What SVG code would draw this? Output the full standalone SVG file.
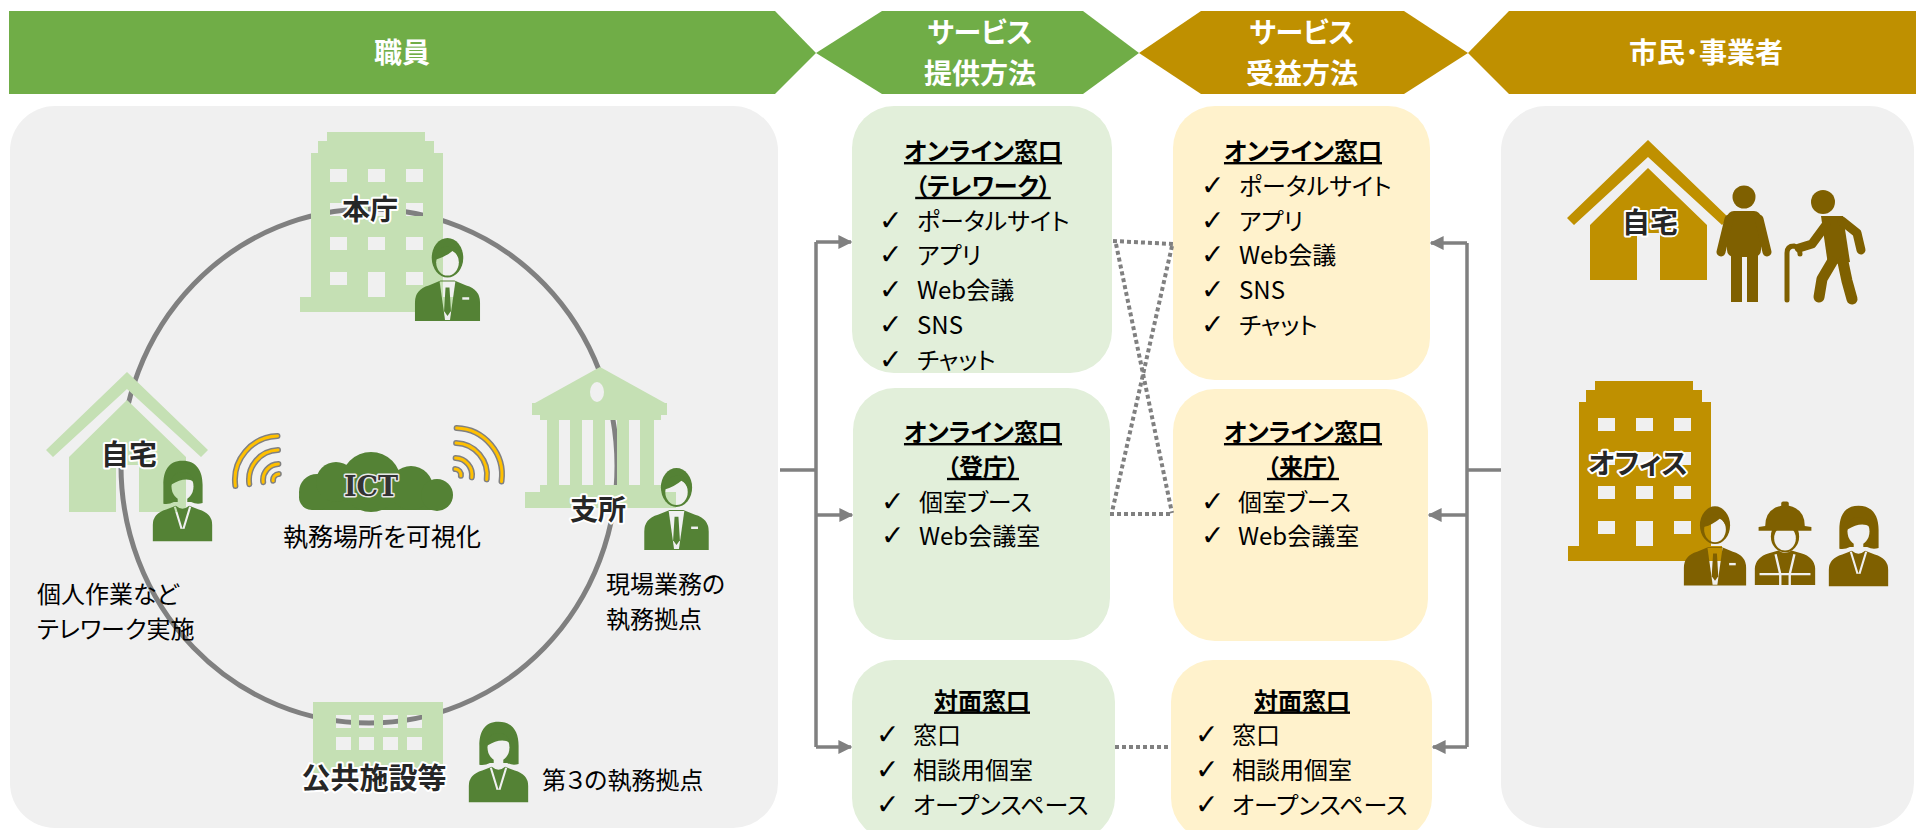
<svg xmlns="http://www.w3.org/2000/svg" xmlns:xlink="http://www.w3.org/1999/xlink" width="1916" height="830" viewBox="0 0 1916 830">
  <style>
    text { font-family: "Noto Sans CJK JP", "Noto Sans", sans-serif; font-feature-settings: "palt"; }
    .hdr { font-size: 28px; font-weight: bold; fill: #ffffff; text-anchor: middle; }
    .ttl { font-size: 24px; font-weight: bold; fill: #000000; text-anchor: middle; text-decoration: underline; }
    .itm { font-size: 24px; fill: #000000; }
    .chk { font-family: "DejaVu Sans", sans-serif; font-size: 28px; font-weight: bold; fill: #000000; }
    .lbl { font-size: 28px; font-weight: bold; fill: #262626; stroke: #ffffff; stroke-width: 4px; paint-order: stroke; stroke-linejoin: round; text-anchor: middle; }
    .ict { font-family: "DejaVu Serif", "Liberation Serif", serif; font-size: 27px; font-weight: bold; fill: #333333; stroke: #e8e8e8; stroke-width: 3px; paint-order: stroke; stroke-linejoin: round; text-anchor: middle; }
    .txt { font-size: 24px; fill: #000000; }
    .panel { fill: #F0F0F0; }
    .gbox { fill: #E2EFDA; }
    .ybox { fill: #FFF2CC; }
    .lgreen { fill: #C5E0B4; }
    .gold { fill: #BF9000; }
    .hole { fill: #F0F0F0; }
    .wire { fill: none; stroke: #808080; stroke-width: 3.5; }
    .dots { fill: none; stroke: #808080; stroke-width: 4; stroke-dasharray: 4 3; }
    .wave { fill: none; stroke-linecap: round; }
    .limb { fill: none; stroke: #7F6000; stroke-linecap: round; stroke-linejoin: round; }
  </style>
  <defs>
    <marker id="arr" viewBox="0 0 10 10" refX="9" refY="5" markerWidth="4" markerHeight="4.4" orient="auto" markerUnits="strokeWidth">
      <path d="M0,0 L10,5 L0,10 Z" fill="#808080"/>
    </marker>
    <!-- house: roof band + body with door opening, origin at roof apex -->
    <symbol id="house" viewBox="-82 0 164 141" overflow="visible">
      <path d="M0,0 L81,78 L74,85 L0,17 L-74,85 L-81,78 Z"/>
      <path d="M0,28 L59,85 V140 H12 V93 H-11 V140 H-58 V85 Z"/>
    </symbol>
    <!-- office tower with window openings -->
    <path id="tower" fill-rule="evenodd" d="M27,0 H125 V9 H134 V21 H143 V165 H154 V180 H0 V165 H11 V21 H18 V9 H27 Z
      M30,37 h17 v13 h-17 Z M68,37 h17 v13 h-17 Z M106,37 h17 v13 h-17 Z
      M30,71 h17 v13 h-17 Z M68,71 h17 v13 h-17 Z M106,71 h17 v13 h-17 Z
      M30,105 h17 v13 h-17 Z M68,105 h17 v13 h-17 Z M106,105 h17 v13 h-17 Z
      M30,140 h17 v13 h-17 Z M68,140 h17 v25 h-17 Z M106,140 h17 v13 h-17 Z"/>

    <!-- cut-outs for the person pictograms (face, shirt, collar lines) -->
    <mask id="cut-man" maskUnits="userSpaceOnUse" x="0" y="0" width="70" height="90">
      <rect width="70" height="90" fill="#fff"/>
      <ellipse cx="35" cy="25.5" rx="11.5" ry="13.5" fill="#000"/>
      <path d="M27,45 H43 L37.5,84 H32.5 Z" fill="#000"/>
      <rect x="50" y="61" width="7" height="2.5" fill="#000"/>
    </mask>
    <mask id="cut-woman" maskUnits="userSpaceOnUse" x="0" y="0" width="70" height="90">
      <rect width="70" height="90" fill="#fff"/>
      <ellipse cx="35" cy="28" rx="11.5" ry="14" fill="#000"/>
      <rect x="30" y="38" width="10" height="9" fill="#000"/>
      <path d="M27,49 L34,72 M43,49 L36,72" stroke="#000" stroke-width="2.2" fill="none"/>
    </mask>
    <mask id="cut-worker" maskUnits="userSpaceOnUse" x="0" y="0" width="70" height="90">
      <rect width="70" height="90" fill="#fff"/>
      <ellipse cx="35" cy="40" rx="11.5" ry="13" fill="#000"/>
      <path d="M25,57 L30,78 V90 M45,57 L40,78 V90 M8,78 H62" stroke="#000" stroke-width="2.5" fill="none"/>
    </mask>

    <!-- person in suit -->
    <symbol id="man" viewBox="0 0 70 85">
      <g fill="currentColor" mask="url(#cut-man)">
        <path d="M2,85 V66 Q2,53 16,49 L28,44 H42 L54,49 Q68,53 68,66 V85 Z"/>
        <ellipse cx="35" cy="21" rx="16" ry="20"/>
      </g>
      <path fill="currentColor" d="M33,51 H37 L38.5,75 L35,80 L31.5,75 Z"/>
      <path fill="currentColor" d="M23,23 Q23,9 37,9 Q49,10 48,25 Q45,16 40,14 Q33,20 23,23 Z"/>
    </symbol>
    <!-- person with long hair -->
    <symbol id="woman" viewBox="0 0 70 85">
      <g fill="currentColor" mask="url(#cut-woman)">
        <path d="M35,1 C20,1 15,12 15,26 V46 Q21,47 26,44 H44 Q50,47 56,45 V26 C56,12 50,1 35,1 Z"/>
        <path d="M4,85 V68 Q4,56 18,52 L28,48 Q35,54 42,48 L52,52 Q66,56 66,68 V85 Z"/>
      </g>
      <path fill="currentColor" d="M23,26 Q23,13 35,13 Q45,13 47,23 Q38,17 23,26 Z"/>
    </symbol>
    <!-- person with safety helmet -->
    <symbol id="worker" viewBox="0 0 70 90">
      <g fill="currentColor" mask="url(#cut-worker)">
        <path d="M3,90 V72 Q4,60 18,56 L28,53 Q35,58 42,53 L52,56 Q66,60 67,72 V90 Z"/>
        <ellipse cx="35" cy="38" rx="15" ry="17"/>
      </g>
      <path fill="currentColor" d="M14,27 Q14,7 35,5 Q56,7 56,27 L63,28 V32 H7 V28 Z"/>
      <rect fill="currentColor" x="31" y="1" width="8" height="6" rx="2"/>
    </symbol>
  </defs>

  <!-- header banners -->
  <g id="headers">
    <g id="hdr-staff">
      <polygon points="9,11 775,11 816,53 775,94 9,94" fill="#70AD47"/>
      <text class="hdr" x="402" y="63">職員</text>
    </g>
    <g id="hdr-provide">
      <polygon points="882,11 1083,11 1139,53 1083,94 882,94 816,53" fill="#70AD47"/>
      <text class="hdr" x="980" y="43">サービス</text>
      <text class="hdr" x="980" y="83.5">提供方法</text>
    </g>
    <g id="hdr-receive">
      <polygon points="1201,11 1404,11 1468,53 1404,94 1201,94 1139,53" fill="#BF9000"/>
      <text class="hdr" x="1302" y="43">サービス</text>
      <text class="hdr" x="1302" y="83.5">受益方法</text>
    </g>
    <g id="hdr-citizens">
      <polygon points="1509,11 1916,11 1916,94 1509,94 1468,53" fill="#BF9000"/>
      <text class="hdr" x="1706" y="63">市民･事業者</text>
    </g>
  </g>

  <!-- staff workplace panel -->
  <g id="node-staff">
    <rect class="panel" x="10" y="106" width="768" height="722" rx="45"/>
    <ellipse cx="369" cy="466" rx="248" ry="257" fill="none" stroke="#808080" stroke-width="5"/>

    <g id="site-honcho">
      <use href="#tower" class="lgreen" transform="translate(300,132)"/>
      <text class="lbl" x="370" y="220">本庁</text>
      <use href="#man" x="413" y="237" width="69" height="84" color="#548235"/>
    </g>

    <g id="site-home">
      <use href="#house" class="lgreen" x="45" y="372" width="164" height="141"/>
      <text class="lbl" x="129" y="465">自宅</text>
      <use href="#woman" x="149" y="458" width="67" height="85" color="#548235"/>
      <text class="txt" x="37" y="603">個人作業など</text>
      <text class="txt" x="37" y="638">テレワーク実施</text>
    </g>

    <g id="site-branch">
      <g class="lgreen">
        <polygon points="600,367 665,403 535,403"/>
        <rect x="532" y="403" width="135" height="12"/>
        <rect x="540" y="415" width="121" height="5"/>
        <rect x="547" y="420" width="12" height="65"/>
        <rect x="570" y="420" width="12" height="65"/>
        <rect x="593" y="420" width="12" height="65"/>
        <rect x="617" y="420" width="12" height="65"/>
        <rect x="640" y="420" width="14" height="65"/>
        <rect x="540" y="485" width="121" height="7"/>
        <rect x="525" y="492" width="151" height="16"/>
      </g>
      <ellipse class="hole" cx="597" cy="392" rx="7" ry="10"/>
      <text class="lbl" x="598" y="520">支所</text>
      <use href="#man" x="642" y="467" width="69" height="83" color="#548235"/>
      <text class="txt" x="606" y="593">現場業務の</text>
      <text class="txt" x="606" y="628">執務拠点</text>
    </g>

    <g id="site-public">
      <path class="lgreen" fill-rule="evenodd" d="M313,702 H443 V773 H313 Z
        M336,715 h15 v13 h-15 Z M359,715 h15 v13 h-15 Z M383,715 h15 v13 h-15 Z M407,715 h15 v13 h-15 Z
        M336,737 h15 v13 h-15 Z M359,737 h15 v13 h-15 Z M383,737 h15 v13 h-15 Z M407,737 h15 v13 h-15 Z"/>
      <text class="lbl" x="374" y="789" style="font-size:29px">公共施設等</text>
      <use href="#woman" x="465" y="720" width="67" height="83" color="#548235"/>
      <text class="txt" x="542" y="789">第３の執務拠点</text>
    </g>

    <g id="ict">
      <g fill="#548235">
        <rect x="299" y="484" width="148" height="26" rx="13"/>
        <circle cx="317" cy="492" r="18"/>
        <circle cx="336" cy="482" r="20"/>
        <circle cx="371" cy="482" r="30"/>
        <circle cx="411" cy="488" r="22"/>
        <circle cx="437" cy="495" r="16"/>
      </g>
      <!-- signal waves: grey casing under a yellow core -->
      <g class="wave" stroke="#808080" stroke-width="6">
        <path d="M235.4,486.1 A44,44 0 0 1 277.5,436 M249.3,484.2 A30,30 0 0 1 278,450 M263.2,482.2 A16,16 0 0 1 278.4,464 M273.1,480.8 A6,6 0 0 1 278.8,474"/>
        <path d="M456.6,428 A47,47 0 0 1 501.5,481.5 M456.1,443 A32,32 0 0 1 486.7,479.4 M455.6,458 A17,17 0 0 1 471.8,477.4 M455.2,469 A6,6 0 0 1 460.9,475.8"/>
      </g>
      <g class="wave" stroke="#FFC000" stroke-width="3">
        <path d="M235.4,486.1 A44,44 0 0 1 277.5,436 M249.3,484.2 A30,30 0 0 1 278,450 M263.2,482.2 A16,16 0 0 1 278.4,464 M273.1,480.8 A6,6 0 0 1 278.8,474"/>
        <path d="M456.6,428 A47,47 0 0 1 501.5,481.5 M456.1,443 A32,32 0 0 1 486.7,479.4 M455.6,458 A17,17 0 0 1 471.8,477.4 M455.2,469 A6,6 0 0 1 460.9,475.8"/>
      </g>
      <text class="ict" x="371" y="496">ICT</text>
      <text class="txt" x="382" y="546" text-anchor="middle" style="font-size:25px">執務場所を可視化</text>
    </g>
  </g>

  <!-- service delivery channels -->
  <g id="node-provide-online-telework">
    <rect class="gbox" x="852" y="106" width="260" height="267" rx="42"/>
    <text class="ttl" x="983" y="160">オンライン窓口</text>
    <text class="ttl" x="983" y="194.8">（テレワーク）</text>
    <text class="chk" x="879" y="229.6">✓</text><text class="itm" x="917" y="229.6">ポータルサイト</text>
    <text class="chk" x="879" y="264.4">✓</text><text class="itm" x="917" y="264.4">アプリ</text>
    <text class="chk" x="879" y="299.2">✓</text><text class="itm" x="917" y="299.2">Web会議</text>
    <text class="chk" x="879" y="334">✓</text><text class="itm" x="917" y="334">SNS</text>
    <text class="chk" x="879" y="368.8">✓</text><text class="itm" x="917" y="368.8">チャット</text>
  </g>
  <g id="node-provide-online-office">
    <rect class="gbox" x="853" y="388" width="257" height="252" rx="42"/>
    <text class="ttl" x="983" y="441">オンライン窓口</text>
    <text class="ttl" x="983" y="475.8">（登庁）</text>
    <text class="chk" x="881" y="510.6">✓</text><text class="itm" x="919" y="510.6">個室ブース</text>
    <text class="chk" x="881" y="545.4">✓</text><text class="itm" x="919" y="545.4">Web会議室</text>
  </g>
  <g id="node-provide-counter">
    <rect class="gbox" x="852" y="660" width="263" height="180" rx="42"/>
    <text class="ttl" x="982" y="709.5">対面窓口</text>
    <text class="chk" x="876" y="744.3">✓</text><text class="itm" x="913" y="744.3">窓口</text>
    <text class="chk" x="876" y="779.1">✓</text><text class="itm" x="913" y="779.1">相談用個室</text>
    <text class="chk" x="876" y="813.9">✓</text><text class="itm" x="913" y="813.9">オープンスペース</text>
  </g>

  <!-- service receiving channels -->
  <g id="node-receive-online">
    <rect class="ybox" x="1173" y="106" width="257" height="274" rx="42"/>
    <text class="ttl" x="1303" y="160">オンライン窓口</text>
    <text class="chk" x="1201" y="194.8">✓</text><text class="itm" x="1239" y="194.8">ポータルサイト</text>
    <text class="chk" x="1201" y="229.6">✓</text><text class="itm" x="1239" y="229.6">アプリ</text>
    <text class="chk" x="1201" y="264.4">✓</text><text class="itm" x="1239" y="264.4">Web会議</text>
    <text class="chk" x="1201" y="299.2">✓</text><text class="itm" x="1239" y="299.2">SNS</text>
    <text class="chk" x="1201" y="334">✓</text><text class="itm" x="1239" y="334">チャット</text>
  </g>
  <g id="node-receive-online-visit">
    <rect class="ybox" x="1173" y="389" width="255" height="252" rx="42"/>
    <text class="ttl" x="1303" y="441">オンライン窓口</text>
    <text class="ttl" x="1303" y="475.8">（来庁）</text>
    <text class="chk" x="1201" y="510.6">✓</text><text class="itm" x="1238" y="510.6">個室ブース</text>
    <text class="chk" x="1201" y="545.4">✓</text><text class="itm" x="1238" y="545.4">Web会議室</text>
  </g>
  <g id="node-receive-counter">
    <rect class="ybox" x="1171" y="660" width="261" height="180" rx="42"/>
    <text class="ttl" x="1302" y="709.5">対面窓口</text>
    <text class="chk" x="1195" y="744.3">✓</text><text class="itm" x="1232" y="744.3">窓口</text>
    <text class="chk" x="1195" y="779.1">✓</text><text class="itm" x="1232" y="779.1">相談用個室</text>
    <text class="chk" x="1195" y="813.9">✓</text><text class="itm" x="1232" y="813.9">オープンスペース</text>
  </g>

  <!-- citizens and businesses panel -->
  <g id="node-citizens">
    <rect class="panel" x="1501" y="106" width="413" height="722" rx="45"/>
    <use href="#house" class="gold" x="1566" y="140" width="164" height="141"/>
    <text class="lbl" x="1650" y="233">自宅</text>
    <g fill="#7F6000">
      <circle cx="1744" cy="197" r="11.5"/>
      <rect x="1727" y="211" width="34" height="46" rx="7"/>
      <rect x="1731" y="250" width="11" height="52"/>
      <rect x="1747" y="250" width="11" height="52"/>
      <circle cx="1823" cy="202" r="12"/>
      <polygon points="1821,216 1843,216 1850,262 1828,265"/>
    </g>
    <g class="limb">
      <path stroke-width="9" d="M1729,219 L1721,252 M1759,219 L1767,252"/>
      <path stroke-width="9" d="M1826,225 L1812,244 L1799,248 M1842,221 L1857,233 L1861,250"/>
      <path stroke-width="11" d="M1832,262 L1822,279 L1819,297 M1843,262 L1847,281 L1852,299"/>
      <path stroke-width="5" d="M1787,300 V253 Q1787,246 1794,246 Q1800,247 1800,254"/>
    </g>
    <use href="#tower" class="gold" transform="translate(1568,381)"/>
    <text class="lbl" x="1638" y="474">オフィス</text>
    <use href="#man" x="1682" y="503" width="66" height="85" color="#7F6000"/>
    <use href="#worker" x="1752" y="498" width="66" height="90" color="#7F6000"/>
    <use href="#woman" x="1825" y="503" width="67" height="85" color="#7F6000"/>
  </g>

  <!-- connectors -->
  <g id="connectors">
    <path class="wire" d="M780,470 H816 M816,242 V747"/>
    <path class="wire" marker-end="url(#arr)" d="M816,242 H851"/>
    <path class="wire" marker-end="url(#arr)" d="M816,515 H852"/>
    <path class="wire" marker-end="url(#arr)" d="M816,747 H851"/>
    <path class="wire" d="M1501,470 H1467 M1467,243 V747"/>
    <path class="wire" marker-end="url(#arr)" d="M1467,243 H1431"/>
    <path class="wire" marker-end="url(#arr)" d="M1467,515 H1429"/>
    <path class="wire" marker-end="url(#arr)" d="M1467,747 H1433"/>
    <path class="dots" d="M1113,241 L1173,244"/>
    <path class="dots" d="M1116,244 L1172,513"/>
    <path class="dots" d="M1172,246 L1112,512"/>
    <path class="dots" d="M1110,514 H1173"/>
    <path class="dots" d="M1115,747 H1171"/>
  </g>
</svg>
